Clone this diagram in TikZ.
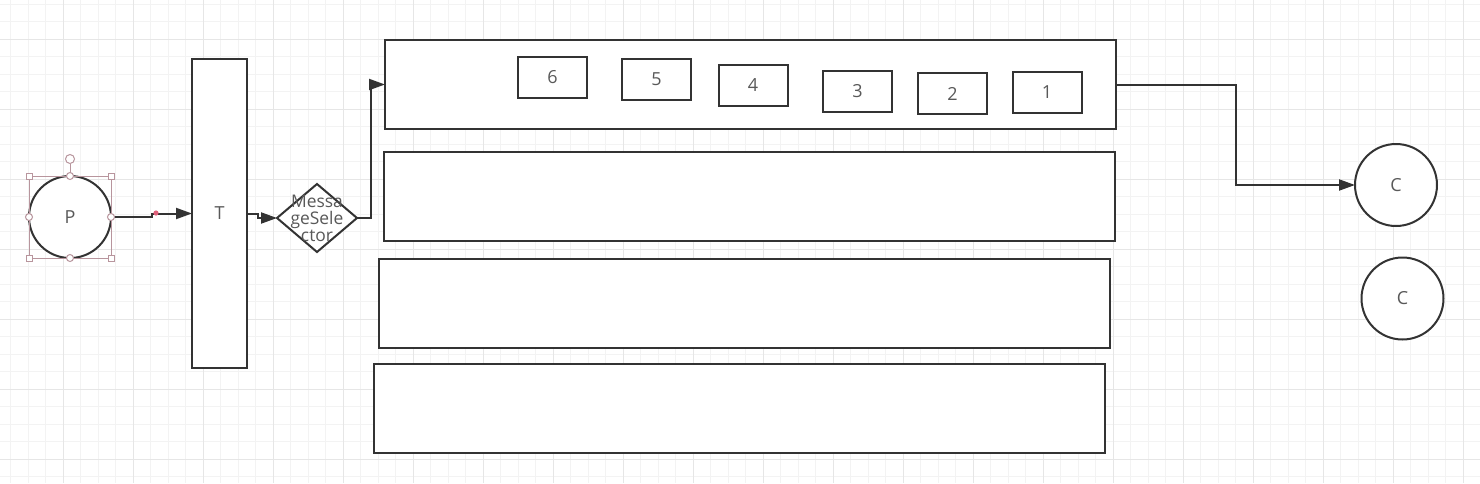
\documentclass[tikz,border=0pt]{standalone}
\usepackage{fontspec}
\setmainfont{Open Sans}
\usetikzlibrary{arrows.meta, shapes.geometric}

\definecolor{edge}{HTML}{333333}
\definecolor{txt}{HTML}{595959}
\definecolor{gridminor}{HTML}{F3F3F3}
\definecolor{gridmajor}{HTML}{E6E6E6}
\definecolor{handlecol}{HTML}{B8959D}
\definecolor{bendpink}{HTML}{E0607A}

\tikzset{
  box/.style={draw=edge, line width=1pt, fill=white, inner sep=0pt, outer sep=0pt,
    text=txt, font=\fontsize{9}{11}\selectfont},
  msg/.style={box, minimum width=69*\F, minimum height=41*\F},
  queue/.style={box, minimum width=731*\F, minimum height=89*\F},
  client/.style={box, circle, minimum size=82*\F},
  conn/.style={draw=edge, line width=1pt, -{Triangle[length=8pt, width=5.5pt]}},
  handlebox/.style={draw=handlecol, line width=0.5pt, fill=white},
}

\def\F{0.5pt} % one pixel of the drawing

\begin{document}
\begin{tikzpicture}[x=\F, y=-\F]
    \useasboundingbox[fill=white] (0,0) rectangle (1480,483);

    % background grid
    \foreach \i in {0,...,84}
        \draw[draw=gridminor, line width=0.5pt] (10.5+17.5*\i, 0) -- (10.5+17.5*\i, 483);
    \foreach \j in {0,...,27}
        \draw[draw=gridminor, line width=0.5pt] (0, 4+17.5*\j) -- (1480, 4+17.5*\j);
    \foreach \i in {0,...,21}
        \draw[draw=gridmajor, line width=0.5pt] (-7+70*\i, 0) -- (-7+70*\i, 483);
    \foreach \j in {0,...,6}
        \draw[draw=gridmajor, line width=0.5pt] (0, 39+70*\j) -- (1480, 39+70*\j);

    % producer, topic, selector
    \node[client] (P) at (70,217) {P};
    \node[box, minimum width=55*\F, minimum height=309*\F] (T) at (219.5,213.5) {T};
    \node[box, diamond, minimum width=80*\F, minimum height=68*\F,
        label={[text=txt, align=center, font=\fontsize{8.7}{8.5}\selectfont]center:Messa\\geSele\\ctor}] (sel) at (317,218) {};

    % queues
    \node[queue] (q0) at (750.5,84.5) {};
    \node[queue] (q1) at (749.5,196) {};
    \node[queue] (q2) at (744.5,303) {};
    \node[queue] (q3) at (739.5,408.5) {};

    \foreach \n/\x/\y in {6/552.5/77, 5/656.5/79, 4/753/85.5, 3/857.5/91.5, 2/952.5/93.5, 1/1047/92.5}
        \node[msg] (m\n) at (\x,\y) {\n};

    % consumers
    \node[client] (c1) at (1396,185) {C};
    \node[client] (c2) at (1402.5,298.5) {C};

    % connectors
    \draw[conn] (P.east) -- (152,217) |- (T.west);
    \fill[fill=bendpink] (156,213) circle[radius=1.3pt];
    \draw[conn] (T.east) -- ++(11,0) |- (sel.west);
    \draw[conn] (sel.east) -- (371,218) |- (q0.west);
    \draw[conn] (q0.east) -- (1236,84.5) |- (c1.west);

    % selection handles round P
    \draw[draw=handlecol, line width=0.5pt] (29,176) rectangle (111,258);
    \draw[draw=handlecol, line width=0.5pt] (70,163.5) -- (70,176);
    \foreach \x/\y in {29/176, 111/176, 29/258, 111/258}
        \draw[handlebox] (\x-3,\y-3) rectangle (\x+3,\y+3);
    \foreach \x/\y in {70/176, 29/217, 111/217, 70/258}
        \draw[handlebox] (\x,\y) circle[radius=1.75pt];
    \draw[handlebox] (70,159) circle[radius=2.25pt];
\end{tikzpicture}
\end{document}
